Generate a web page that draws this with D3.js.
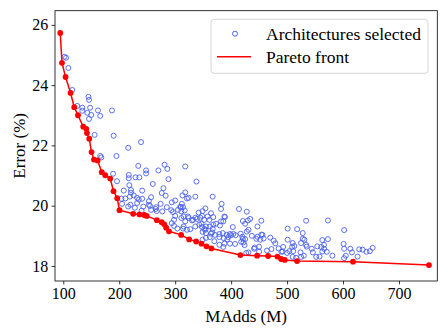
<!DOCTYPE html>
<html><head><meta charset="utf-8">
<script src="https://cdn.jsdelivr.net/npm/d3@7/dist/d3.min.js"></script>
<style>body{margin:0;background:#fff}svg{display:block}text{font-family:"Liberation Serif","Times New Roman",serif}</style>
</head><body>
<script>
const archMAdds=[102,105,109,116,125,134,134,145,146,148,143,150,146,162,166,187,156,190,216,239,166,168,195,189,196,217,217,229,236,234,248,248,260,270,281,286,288,318,338,218,208,221,221,241,211,219,226,232,235,241,257,253,255,266,274,283,294,300,310,318,324,312,279,313,321,336,204,205,216,228,240,253,257,265,267,277,285,293,296,300,305,309,311,314,317,298,294,298,304,314,321,327,311,324,332,339,342,348,354,358,364,343,336,348,354,362,366,371,379,385,387,392,393,403,398,404,407,420,422,428,421,430,427,386,389,373,380,367,367,383,382,414,428,434,454,447,501,518,534,573,602,528,501,510,525,531,534,509,504,493,485,479,476,470,458,447,454,441,450,464,472,492,500,510,525,524,544,552,554,561,563,566,571,573,581,566,601,602,605,613,616,626,629,635,642,648,653,349,368,352,361,347,355,352,368,349,355,364,362,370,355,349,379,395,400,408,398,388,379,386,417,421,425,418,424,431,437,445,452,456,442,431,450,513,490,511,528,535,530,516,546,563,558,602,345,336,330,323,388,382,425,220,232,243,276,315,318,315];
const archError=[24.94,24.91,24.57,23.84,23.31,23.25,23.15,23.61,23.51,23.25,23.08,23.01,22.88,23.16,22.98,23.16,22.35,22.32,21.92,22.11,21.65,21.60,21.65,21.06,20.81,21.02,20.91,20.94,20.94,21.32,21.17,21.07,20.72,21.17,21.36,21.22,20.88,21.30,20.80,20.68,20.50,20.52,20.43,20.50,20.24,20.30,20.34,20.26,20.20,20.23,20.28,20.15,19.99,19.95,20.06,20.33,20.11,20.17,19.95,20.44,20.26,20.06,20.58,20.34,20.24,20.30,20.23,20.06,19.97,19.93,19.83,20.03,19.86,19.89,19.82,19.81,19.95,19.85,19.79,19.66,19.86,19.96,19.81,19.95,19.84,19.53,19.42,19.33,19.24,19.24,19.20,19.22,19.59,19.59,19.53,19.56,19.77,19.66,19.91,19.64,19.75,19.37,19.31,19.29,19.20,19.31,19.11,19.03,19.06,19.09,18.92,19.03,18.88,19.29,19.06,19.06,18.73,18.97,18.78,19.14,19.49,19.51,18.43,19.48,19.62,19.40,19.34,19.23,20.30,20.06,19.89,19.89,19.80,19.56,19.50,19.31,19.24,19.22,19.50,19.51,19.19,19.09,18.87,18.76,18.76,18.87,18.70,18.63,18.49,18.63,18.58,18.75,18.84,18.94,18.91,18.97,19.04,18.57,18.64,18.51,18.56,18.48,18.43,18.30,18.30,18.45,18.57,18.30,18.65,18.63,18.86,18.57,18.47,18.89,18.34,18.70,18.73,18.57,18.34,18.57,18.45,18.31,18.55,18.54,18.47,18.49,18.60,19.82,19.62,19.53,19.53,19.40,19.31,19.22,19.37,19.13,19.09,19.07,18.96,18.82,18.93,18.87,18.96,18.96,19.02,19.02,18.74,18.74,18.70,18.63,19.07,18.90,18.89,18.80,18.69,19.20,19.00,18.90,18.87,19.03,18.61,18.45,18.47,18.66,18.47,18.49,18.90,18.64,18.34,18.27,18.45,18.48,18.31,18.26,19.60,19.60,19.51,19.64,19.64,19.48,19.40,20.03,20.09,19.97,20.42,19.64,19.48,19.31];
const paretoMAdds=[94.6,97.7,104.1,113,119.6,126.3,135.7,141.1,142.3,146.4,150.5,154.8,161.3,168.8,175,183.9,189.8,196.4,200.5,225,236.3,244.6,249.1,267.3,275.9,280.4,283.9,288.9,310.7,325,337.5,347,355.9,364.8,416.6,446.4,466.1,482.7,489.3,495.9,517.9,617.9,753.6];
const paretoError=[25.73,24.74,24.27,23.74,23.27,23.00,22.62,22.55,22.41,22.22,21.78,21.53,21.50,21.11,21.01,20.90,20.48,20.25,19.85,19.73,19.71,19.69,19.66,19.52,19.45,19.38,19.27,19.15,19.03,18.88,18.81,18.74,18.65,18.58,18.36,18.34,18.33,18.31,18.23,18.20,18.16,18.14,18.03];
const xTicks=[100,200,300,400,500,600,700];
const yTicks=[18,20,22,24,26];
const xLabel="MAdds (M)", yLabel="Error (%)";
const legendLabels=["Architectures selected","Pareto front"];

const W=448,H=336, L=55,R=437.3,T=10.7,B=281;
const svg=d3.select("body").append("svg").attr("width",W).attr("height",H);
const x=d3.scaleLinear().domain([85.2,768.5]).range([L,R]);
const y=d3.scaleLinear().domain([17.5,26.47]).range([B,T]);
const fs="16px", lbfs="17px", lfs="17.5px";
const blue="#4a62f0";

const xa=svg.append("g").attr("transform",`translate(0,${B})`)
  .call(d3.axisBottom(x).tickValues(xTicks).tickSize(3.4).tickPadding(3.4).tickFormat(d3.format("d")));
const ya=svg.append("g").attr("transform",`translate(${L},0)`)
  .call(d3.axisLeft(y).tickValues(yTicks).tickSize(3.4).tickPadding(3.4).tickFormat(d3.format("d")));
[xa,ya].forEach(g=>{g.select(".domain").remove();g.selectAll("line").attr("stroke","#000").attr("stroke-width",0.8);
  g.selectAll("text").attr("font-size",fs).attr("fill","#000").attr("font-family","Liberation Serif");});

const pts=archMAdds.map((m,i)=>[m,archError[i]]);
svg.append("g").selectAll("circle").data(pts).join("circle")
  .attr("cx",d=>x(d[0])).attr("cy",d=>y(d[1])).attr("r",2.5)
  .attr("fill","none").attr("stroke",blue).attr("stroke-opacity",0.9).attr("stroke-width",1);

const pf=paretoMAdds.map((m,i)=>[m,paretoError[i]]);
svg.append("path").datum(pf).attr("d",d3.line().x(d=>x(d[0])).y(d=>y(d[1])))
  .attr("fill","none").attr("stroke","#ff0000").attr("stroke-width",1.5);
svg.append("g").selectAll("circle").data(pf).join("circle")
  .attr("cx",d=>x(d[0])).attr("cy",d=>y(d[1])).attr("r",2.9).attr("fill","#ff0000");

svg.append("rect").attr("x",L).attr("y",T).attr("width",R-L).attr("height",B-T)
  .attr("fill","none").attr("stroke","#000").attr("stroke-width",0.8);

svg.append("text").attr("x",(L+R)/2).attr("y",321.5).attr("text-anchor","middle").attr("font-size",lbfs).text(xLabel);
svg.append("text").attr("transform",`translate(25,${(T+B)/2}) rotate(-90)`).attr("text-anchor","middle").attr("font-size",lbfs).text(yLabel);

// legend
const lg=svg.append("g");
lg.append("rect").attr("x",211).attr("y",19.3).attr("width",217).attr("height",54).attr("rx",3)
  .attr("fill","#fff").attr("fill-opacity",0.8).attr("stroke","#cccccc").attr("stroke-width",0.8);
lg.append("circle").attr("cx",235).attr("cy",33.7).attr("r",2.5).attr("fill","none").attr("stroke",blue).attr("stroke-width",1);
lg.append("line").attr("x1",217).attr("x2",251).attr("y1",56.8).attr("y2",56.8).attr("stroke","#ff0000").attr("stroke-width",1.5);
lg.append("text").attr("x",266).attr("y",39.5).attr("font-size",lfs).text(legendLabels[0]);
lg.append("text").attr("x",266).attr("y",62.6).attr("font-size",lfs).text(legendLabels[1]);
</script>
</body></html>
